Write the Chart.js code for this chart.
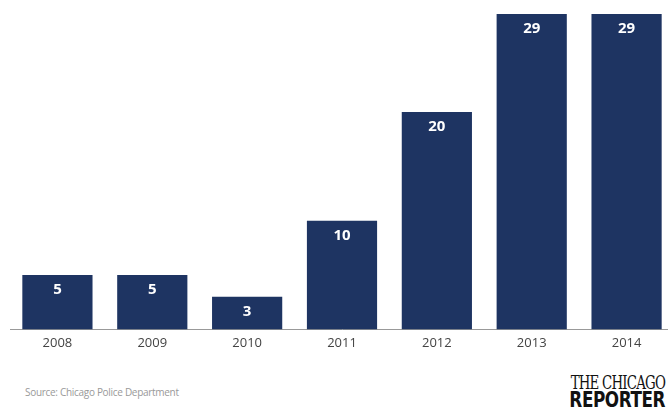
<!DOCTYPE html>
<html>
<head>
<meta charset="utf-8">
<script src="https://cdn.jsdelivr.net/npm/chart.js@4/dist/chart.umd.min.js"></script>
<style>
    html, body { margin: 0; padding: 0; background: #fff; }
    body { width: 668px; height: 417px; overflow: hidden; position: relative; font-family: "Open Sans", sans-serif; }
    #wrap { position: absolute; left: 0; top: 0; width: 676px; height: 357px; }
    #source { position: absolute; left: 25px; top: 385px; font-size: 10px; color: #999; letter-spacing: -0.3px; }
    #logo { position: absolute; right: 3px; top: 373px; text-align: right; color: #111; line-height: 1; }
    #logo .a { font-family: "DejaVu Serif Condensed", "DejaVu Serif", serif; font-size: 19px; letter-spacing: -1px; transform: scaleX(0.78); transform-origin: right; display: block; }
    #logo .b { font-family: "DejaVu Sans Condensed", "DejaVu Sans", sans-serif; font-weight: bold; font-size: 22px; letter-spacing: -0.5px; transform: scaleX(0.85); transform-origin: right; display: block; margin-top: -3px; }
</style>
</head>
<body>
<div id="wrap"><canvas id="chart"></canvas></div>
<div id="source">Source: Chicago Police Department</div>
<div id="logo"><span class="a">THE CHICAGO</span><span class="b">REPORTER</span></div>
<script>
const years = ["2008", "2009", "2010", "2011", "2012", "2013", "2014"];
const counts = [5, 5, 3, 10, 20, 29, 29];

const valueLabels = {
    id: "valueLabels",
    afterDatasetsDraw(chart) {
        const ctx = chart.ctx;
        const meta = chart.getDatasetMeta(0);
        ctx.save();
        ctx.fillStyle = "#ffffff";
        ctx.font = "bold 15px 'Open Sans', sans-serif";
        ctx.textAlign = "center";
        ctx.textBaseline = "middle";
        meta.data.forEach((bar, i) => {
            ctx.fillText(String(counts[i]), bar.x, bar.y + 15);
        });
        ctx.restore();
    }
};

new Chart(document.getElementById("chart"), {
    type: "bar",
    data: {
        labels: years,
        datasets: [{
            data: counts,
            backgroundColor: "#1e3462",
            barPercentage: 0.74,
            categoryPercentage: 1
        }]
    },
    options: {
        responsive: true,
        maintainAspectRatio: false,
        animation: false,
        layout: { padding: { left: 10, right: 2, top: 14, bottom: 0 } },
        plugins: {
            legend: { display: false },
            tooltip: { enabled: false }
        },
        scales: {
            x: {
                grid: { display: false, drawTicks: false },
                border: { color: "#999", width: 1 },
                ticks: {
                    color: "#444",
                    padding: 6,
                    font: { family: "'Open Sans', sans-serif", size: 13 }
                }
            },
            y: {
                display: false,
                min: 0,
                max: 29
            }
        }
    },
    plugins: [valueLabels]
});
</script>
</body>
</html>
